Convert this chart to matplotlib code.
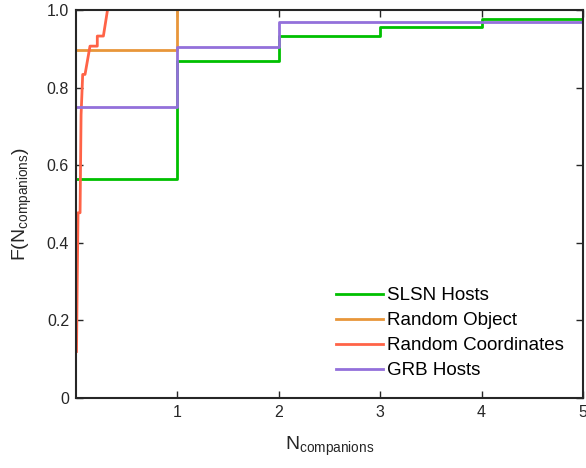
import matplotlib
matplotlib.use("Agg")
import matplotlib.pyplot as plt

plt.rcParams["font.family"] = ["Liberation Sans", "DejaVu Sans"]
plt.rcParams["mathtext.fontset"] = "custom"
plt.rcParams["mathtext.rm"] = "Liberation Sans"
plt.rcParams["mathtext.it"] = "Liberation Sans"

# Empirical CDFs of the number of companions
slsn_x = [0, 1, 2, 3, 4, 5]
slsn_f = [0.5652, 0.8696, 0.9348, 0.9565, 0.9783, 1.0]

obj_x = [0, 1]
obj_f = [0.897, 1.0]

coord_x = [0.005, 0.012, 0.020, 0.040, 0.050, 0.066, 0.089, 0.138, 0.210, 0.210, 0.270, 0.310]
coord_f = [0.120, 0.300, 0.478, 0.478, 0.731, 0.835, 0.835, 0.908, 0.908, 0.934, 0.934, 1.0]

grb_x = [0, 1, 2, 5]
grb_f = [0.75, 0.906, 0.969, 1.0]

x_ticks = [1, 2, 3, 4, 5]
y_ticks = [0, 0.2, 0.4, 0.6, 0.8, 1.0]
y_tick_labels = ["0", "0.2", "0.4", "0.6", "0.8", "1.0"]

c_slsn = "#00c000"
c_obj = "#e8963a"
c_coord = "#ff6347"
c_grb = "#9370db"

fig = plt.figure(figsize=(5.86, 4.68), dpi=100)
ax = fig.add_axes([0.1297, 0.1496, 0.8652, 0.828])

ax.step(slsn_x, slsn_f, where="post", color=c_slsn, lw=2, label="SLSN Hosts")
ax.step(obj_x, obj_f, where="post", color=c_obj, lw=2, label="Random Object")
ax.plot(coord_x, coord_f, color=c_coord, lw=2, label="Random Coordinates")
ax.step(grb_x, grb_f, where="post", color=c_grb, lw=2, label="GRB Hosts")

ax.set_xlim(0, 5)
ax.set_ylim(0, 1)
ax.set_xticks(x_ticks)
ax.set_yticks(y_ticks)
ax.set_yticklabels(y_tick_labels)
ax.tick_params(direction="in", top=True, right=True, length=5, width=1,
               labelsize=11.5, colors="#262626", pad=5)
for s in ax.spines.values():
    s.set_linewidth(1.5)
    s.set_color("#262626")

ax.set_xlabel(r"$\mathregular{N_{companions}}$", fontsize=14, color="#262626", labelpad=11)
ax.set_ylabel(r"$\mathregular{F(N_{companions})}$", fontsize=14, color="#262626", labelpad=9)

ax.legend(loc="lower right", frameon=False, fontsize=13.5, handlelength=2.5,
          handletextpad=0.25, labelspacing=0.42, borderaxespad=0.6)

fig.savefig("out.png", dpi=100)
